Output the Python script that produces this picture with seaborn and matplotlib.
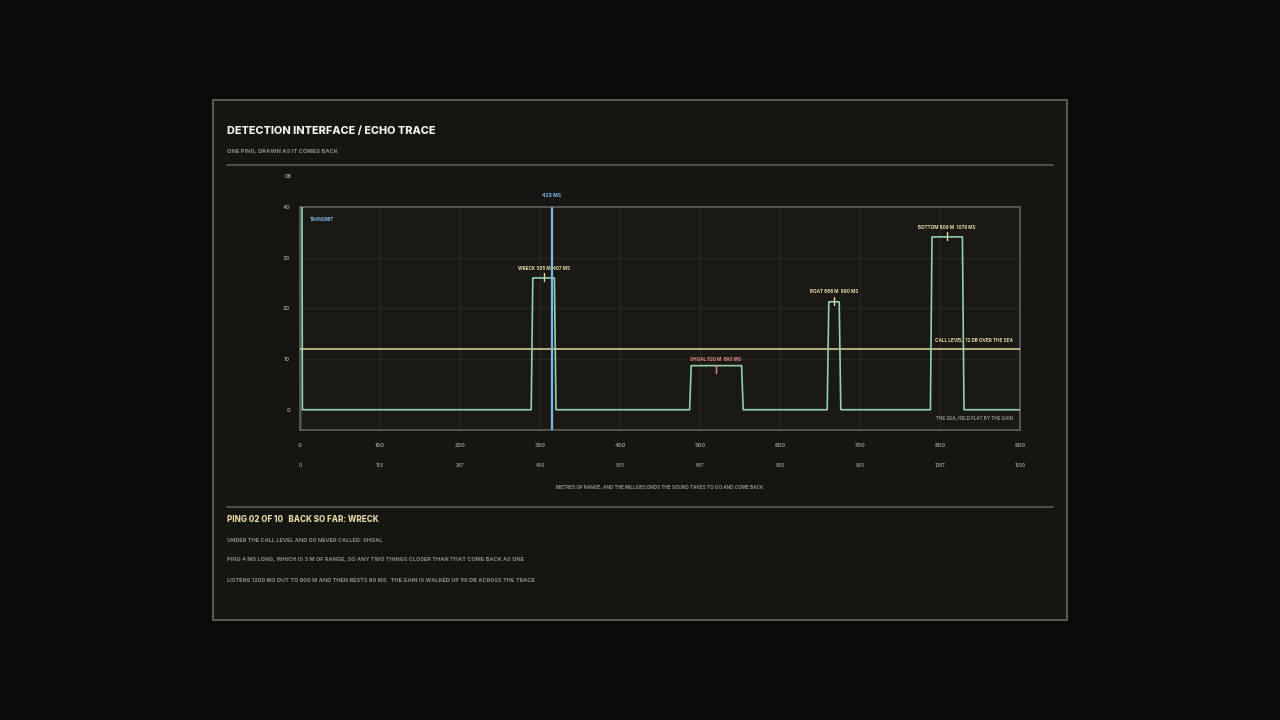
import numpy as np
import pandas as pd
import matplotlib
matplotlib.use("Agg")
import matplotlib.pyplot as plt
from matplotlib.patches import Rectangle
from matplotlib.lines import Line2D
import seaborn as sns

# echo trace, metres of range vs dB over the sea
trace_m = [2.5, 3, 289, 291, 318, 320, 487, 489, 552, 554, 659, 661, 674, 676, 788, 790, 828, 830, 900]
trace_db = [40, 0, 0, 26, 26, 0, 0, 8.7, 8.7, 0, 0, 21.3, 21.3, 0, 0, 34.1, 34.1, 0, 0]

echo_names = ["WRECK", "SHOAL", "BOAT", "BOTTOM"]
echo_m = [305, 520, 668, 809]
echo_ms = [407, 693, 890, 1079]
echo_db = [26, 8.7, 21.3, 34.1]
echo_called = [True, False, True, True]

call_level = 12
cursor_ms = 420
transmit_m = 3

m_ticks = [0, 100, 200, 300, 400, 500, 600, 700, 800, 900]
ms_ticks = [0, 133, 267, 400, 533, 667, 800, 933, 1067, 1200]
db_ticks = [0, 10, 20, 30, 40]

BG = "#0b0b09"
CARD = "#151512"
PLOT_BG = "#1b1916"
EDGE = "#5a5a55"
GRID = "#2a2925"
GREEN = "#8fd3a6"
BLUE = "#7db9e8"
CREAM = "#e6d5a4"
PINK = "#e08a7f"
GREY = "#8a8984"
WHITE = "#f2f0ea"

sns.set_theme(style="dark")
plt.rcParams["font.family"] = ["Inter", "DejaVu Sans"]
plt.rcParams["font.weight"] = "bold"

fig = plt.figure(figsize=(12.8, 7.2), dpi=100, facecolor=BG)

def fx(px):
    return px / 1280

def fy(py):
    return 1 - py / 720

# card behind everything
fig.patches.append(Rectangle((fx(213), fy(620)), fx(1067) - fx(213), fy(100) - fy(620),
                             transform=fig.transFigure, facecolor=CARD, edgecolor=EDGE, lw=1.5, zorder=-5))
for yy in [165, 507]:
    fig.add_artist(Line2D([fx(227), fx(1053)], [fy(yy), fy(yy)], color=EDGE, lw=1.2, zorder=1))

fig.text(fx(227), fy(131), "DETECTION INTERFACE / ECHO TRACE", color=WHITE, fontsize=7.8,
         fontweight="heavy", va="center", ha="left")
fig.text(fx(227), fy(151), "ONE PING, DRAWN AS IT COMES BACK", color=GREY, fontsize=4.2,
         va="center", ha="left")

ax = fig.add_axes([fx(300), fy(430), fx(1020) - fx(300), fy(207) - fy(430)])
ax.set_zorder(2)
ax.set_facecolor(PLOT_BG)
ax.set_xlim(0, 900)
ax.set_ylim(-4, 40)

for x in m_ticks[1:-1]:
    ax.axvline(x, color=GRID, lw=0.8, zorder=1)
for y in db_ticks[1:-1]:
    ax.axhline(y, color=GRID, lw=0.8, zorder=1)

ax.axvspan(0, transmit_m, color="#4a5560", alpha=0.6, lw=0, zorder=1)

trace = pd.DataFrame({"m": trace_m, "db": trace_db})
sns.lineplot(data=trace, x="m", y="db", sort=False, estimator=None, color=GREEN, lw=1.2, ax=ax, zorder=4)

ax.axhline(call_level, color=CREAM, lw=1.1, zorder=3)
cursor_m = cursor_ms * 0.75
ax.axvline(cursor_m, color=BLUE, lw=1.6, zorder=5)
ax.text(cursor_m, 42.2, f"{cursor_ms} MS", color=BLUE, fontsize=3.6, ha="center", va="center", clip_on=False)
ax.text(12, 37.6, "TRANSMIT", color=BLUE, fontsize=3.3, ha="left", va="center")

for name, m, ms, db, called in zip(echo_names, echo_m, echo_ms, echo_db, echo_called):
    c = CREAM if called else PINK
    lo, hi = (db - 0.6, db + 0.9) if called else (db - 1.4, db + 0.2)
    ax.plot([m, m], [lo, hi], color=c, lw=1.0, zorder=6)
    ax.text(m, hi + 1.05, f"{name} {m} M  {ms} MS", color=c, fontsize=3.3, ha="center", va="center", zorder=7)

ax.text(891, 13.6, f"CALL LEVEL, {call_level} DB OVER THE SEA", color=CREAM, fontsize=3.35, ha="right", va="center")
ax.text(891, -1.8, "THE SEA, HELD FLAT BY THE GAIN", color=GREY, fontsize=3.3, ha="right", va="center")
ax.text(-15, 46.1, "DB", color=GREY, fontsize=3.6, ha="center", va="center", clip_on=False)

ax.set_xticks(m_ticks)
ax.set_xticklabels([str(t) for t in m_ticks])
ax.set_yticks(db_ticks)
ax.set_yticklabels([str(t) for t in db_ticks])
ax.tick_params(axis="x", length=0, pad=9.5, labelsize=4.0, labelcolor=GREY)
ax.tick_params(axis="y", length=0, pad=7, labelsize=4.0, labelcolor=GREY)
ax.set_xlabel("")
ax.set_ylabel("")
ax.grid(False)
for s in ax.spines.values():
    s.set_color(EDGE)
    s.set_linewidth(1.3)
    s.set_visible(True)

sec = ax.secondary_xaxis(-0.09, functions=(lambda m: np.asarray(m) * 4 / 3, lambda ms: np.asarray(ms) * 0.75))
sec.set_xticks(ms_ticks)
sec.set_xticklabels([str(t) for t in ms_ticks])
sec.tick_params(length=0, pad=9, labelsize=3.3, labelcolor=GREY)
sec.spines["bottom"].set_visible(False)

fig.text(fx(660), fy(487), "METRES OF RANGE, AND THE MILLISECONDS THE SOUND TAKES TO GO AND COME BACK",
         color=GREY, fontsize=3.4, ha="center", va="center")

fig.text(fx(227), fy(520), "PING 02 OF 10   BACK SO FAR: WRECK", color=CREAM, fontsize=5.8,
         fontweight="heavy", ha="left", va="center")
info_lines = [
    "UNDER THE CALL LEVEL AND SO NEVER CALLED: SHOAL",
    "PING 4 MS LONG, WHICH IS 3 M OF RANGE, SO ANY TWO THINGS CLOSER THAN THAT COME BACK AS ONE",
    "LISTENS 1200 MS OUT TO 900 M AND THEN RESTS 60 MS   THE GAIN IS WALKED UP 50 DB ACROSS THE TRACE",
]
for yy, line in zip([541, 560, 580], info_lines):
    fig.text(fx(227), fy(yy), line, color=GREY, fontsize=4.0, ha="left", va="center")

fig.savefig("out.png", dpi=100, facecolor=BG)
